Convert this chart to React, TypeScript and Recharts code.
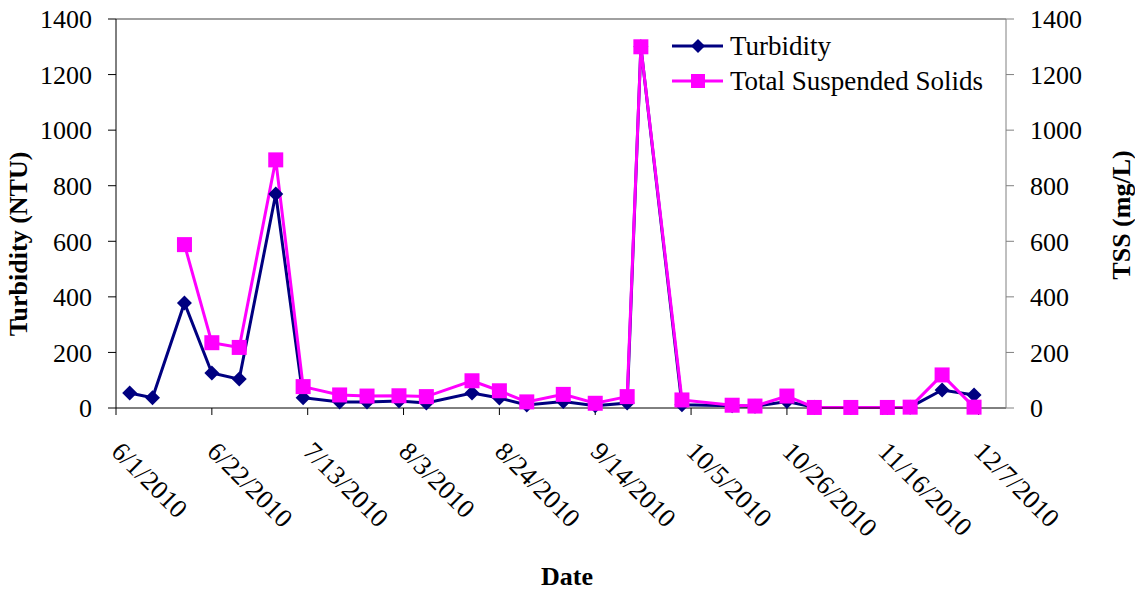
import React from "react";
import { LineChart, Line, XAxis, YAxis, Legend, ReferenceLine } from "recharts";

const sampleDates = [
  "2010-06-04", "2010-06-09", "2010-06-16", "2010-06-22", "2010-06-28",
  "2010-07-06", "2010-07-12", "2010-07-20", "2010-07-26", "2010-08-02",
  "2010-08-08", "2010-08-18", "2010-08-24", "2010-08-30", "2010-09-07",
  "2010-09-14", "2010-09-21", "2010-09-24", "2010-10-03", "2010-10-14",
  "2010-10-19", "2010-10-26", "2010-11-01", "2010-11-09", "2010-11-17",
  "2010-11-22", "2010-11-29", "2010-12-06",
];
const turbidity = [
  54, 37, 378, 126, 104, 770, 37, 22, 22, 25, 18, 54, 36, 11, 23, 8, 18,
  1300, 12, 8, 6, 23, 3, 2, 2, 3, 65, 47,
];
const tss = [
  null, null, 588, 235, 218, 893, 77, 47, 43, 44, 41, 98, 62, 22, 49, 17,
  41, 1300, 29, 10, 7, 43, 2, 2, 2, 3, 119, 3,
];
const dateTicks = [
  "2010-06-01", "2010-06-22", "2010-07-13", "2010-08-03", "2010-08-24",
  "2010-09-14", "2010-10-05", "2010-10-26", "2010-11-16", "2010-12-07",
];
const yTicks = [0, 200, 400, 600, 800, 1000, 1200, 1400];

const NAVY = "#000080";
const MAGENTA = "#FF00FF";
const FONT = "'Liberation Serif', 'Times New Roman', serif";

const START = Date.UTC(2010, 5, 1);
const DAY = 86400000;
const dayOf = (iso: string) => {
  const [y, m, d] = iso.split("-").map(Number);
  return (Date.UTC(y, m - 1, d) - START) / DAY;
};
const fmtDay = (day: number) => {
  const dt = new Date(START + day * DAY);
  return `${dt.getUTCMonth() + 1}/${dt.getUTCDate()}/${dt.getUTCFullYear()}`;
};

const data = sampleDates.map((d, i) => ({
  day: dayOf(d),
  turbidity: turbidity[i],
  tss: tss[i],
}));

const Diamond = (props: any) => {
  const { cx, cy } = props;
  if (cx == null || cy == null) return null;
  const r = 7.5;
  return (
    <path
      d={`M${cx},${cy - r}L${cx + r},${cy}L${cx},${cy + r}L${cx - r},${cy}Z`}
      fill={NAVY}
    />
  );
};

const Square = (props: any) => {
  const { cx, cy } = props;
  if (cx == null || cy == null) return null;
  return <rect x={cx - 7.5} y={cy - 7.5} width={15} height={15} fill={MAGENTA} />;
};

const DateTick = (props: any) => {
  const { x, y, payload } = props;
  const bx = x - 6;
  const by = y + 36;
  return (
    <text
      x={bx}
      y={by}
      transform={`rotate(45, ${bx}, ${by})`}
      textAnchor="start"
      fontFamily={FONT}
      fontSize={26.5}
      fill="#000"
    >
      {fmtDay(payload.value)}
    </text>
  );
};

const LegendBox = () => (
  <svg width={340} height={80}>
    <line x1={7} x2={58} y1={26} y2={26} stroke={NAVY} strokeWidth={3} />
    <path d="M33,19L40,26L33,33L26,26Z" fill={NAVY} />
    <text x={65} y={35} fontFamily={FONT} fontSize={27} fill="#000">
      Turbidity
    </text>
    <line x1={7} x2={58} y1={61} y2={61} stroke={MAGENTA} strokeWidth={3} />
    <rect x={26} y={54} width={14} height={14} fill={MAGENTA} />
    <text x={65} y={70} fontFamily={FONT} fontSize={27} fill="#000">
      Total Suspended Solids
    </text>
  </svg>
);

const tickStyle = { fontFamily: FONT, fontSize: 26, fill: "#000" };

export default function App() {
  return (
    <div style={{ position: "absolute", left: 0, top: 0, background: "#fff" }}>
      <LineChart
        width={1135}
        height={591}
        data={data}
        margin={{ top: 19, right: 0, left: 0, bottom: 0 }}
      >
        <XAxis
          dataKey="day"
          type="number"
          domain={[0, 195]}
          ticks={dateTicks.map(dayOf)}
          tick={<DateTick />}
          tickSize={7}
          height={183}
          stroke="#000"
          interval={0}
          label={() => (
            <text
              x={567}
              y={585}
              textAnchor="middle"
              fontFamily={FONT}
              fontSize={26}
              fontWeight="bold"
              fill="#000"
            >
              Date
            </text>
          )}
        />
        <YAxis
          yAxisId="left"
          width={116}
          domain={[0, 1400]}
          ticks={yTicks}
          interval={0}
          tickSize={8}
          tickMargin={16}
          tick={tickStyle}
          stroke="#000"
          label={() => (
            <text
              x={27}
              y={244}
              transform="rotate(-90, 27, 244)"
              textAnchor="middle"
              fontFamily={FONT}
              fontSize={26}
              fontWeight="bold"
              fill="#000"
            >
              Turbidity (NTU)
            </text>
          )}
        />
        <YAxis
          yAxisId="right"
          orientation="right"
          width={129}
          domain={[0, 1400]}
          ticks={yTicks}
          interval={0}
          tickSize={8}
          tickMargin={16}
          tick={tickStyle}
          stroke="#808080"
          label={() => (
            <text
              x={1130}
              y={215}
              transform="rotate(-90, 1130, 215)"
              textAnchor="middle"
              fontFamily={FONT}
              fontSize={26}
              fontWeight="bold"
              fill="#000"
            >
              TSS (mg/L)
            </text>
          )}
        />
        <ReferenceLine yAxisId="left" y={1400} stroke="#808080" strokeWidth={1.5} />
        <Legend
          layout="vertical"
          align="center"
          verticalAlign="middle"
          content={<LegendBox />}
          wrapperStyle={{ top: 20, left: 665, width: 340, height: 80 }}
        />
        <Line
          yAxisId="left"
          dataKey="turbidity"
          stroke={NAVY}
          strokeWidth={3}
          dot={<Diamond />}
          activeDot={false}
          isAnimationActive={false}
        />
        <Line
          yAxisId="right"
          dataKey="tss"
          stroke={MAGENTA}
          strokeWidth={3}
          dot={<Square />}
          activeDot={false}
          connectNulls
          isAnimationActive={false}
        />
      </LineChart>
    </div>
  );
}
